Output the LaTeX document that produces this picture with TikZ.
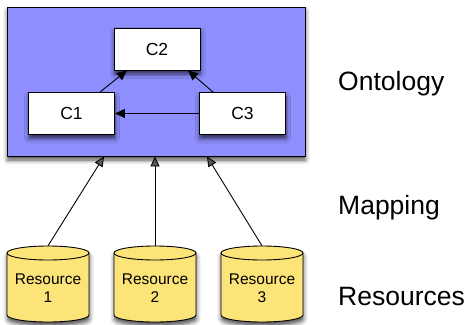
\documentclass[tikz,border=0pt]{standalone}
\usepackage{fontspec}
\setmainfont{Liberation Sans}
\usetikzlibrary{arrows.meta,shadows.blur}
\definecolor{ontoblue}{RGB}{143,143,255}
\definecolor{resyellow}{RGB}{252,228,121}
\tikzset{
  sh/.style={blur shadow={shadow xshift=0.5pt, shadow yshift=-4pt, shadow blur radius=4.5pt, shadow opacity=70}},
  concept/.style={draw=black, line width=0.9pt, fill=white, minimum width=86pt, minimum height=42pt, inner sep=0pt, font=\fontsize{17.5}{20}\selectfont, sh},
  onto/.style={draw=black, line width=0.9pt, fill=ontoblue, minimum width=298pt, minimum height=149pt, inner sep=0pt, sh},
  reslabel/.style={minimum width=82pt, minimum height=84pt, inner sep=0pt, align=center, font=\fontsize{15.5}{17.7}\selectfont},
  arr/.style={line width=0.9pt, -{Triangle[length=10pt,width=9pt]}},
  biglabel/.style={anchor=base west, inner sep=0pt, font=\fontsize{26.5}{30}\selectfont},
  cylbody/.style={draw=black, line width=0.9pt, fill=resyellow}
}
\newcommand{\drawcyl}[1]{%
  \path[cylbody, sh] (#1-41,253) -- (#1-41,315) arc[start angle=180, end angle=360, x radius=41pt, y radius=7pt] -- (#1+41,253) arc[start angle=0, end angle=180, x radius=41pt, y radius=7pt] -- cycle;
  \draw[line width=0.9pt] (#1-41,253) arc[start angle=180, end angle=360, x radius=41pt, y radius=7pt];
}
\begin{document}
\begin{tikzpicture}[x=1pt,y=-1pt]
\useasboundingbox (0,0) rectangle (468,324);
\node[onto] (O) at (156,81.5) {};
\node[concept] (C2) at (157,49) {C2};
\node[concept] (C1) at (71.5,113.5) {C1};
\node[concept] (C3) at (242.5,113.5) {C3};
\draw[arr] ([xshift=28.5pt]C1.north) -- ([xshift=-30pt]C2.south);
\draw[arr] ([xshift=-29.5pt]C3.north) -- ([xshift=31pt]C2.south);
\draw[arr] (C3.west) -- (C1.east);
\drawcyl{48}
\drawcyl{155}
\drawcyl{262}
\node[reslabel] (R1) at (48,288) {Resource\\1};
\node[reslabel] (R2) at (155,288) {Resource\\2};
\node[reslabel] (R3) at (262,288) {Resource\\3};
\draw[arr] (R1.north) -- ([xshift=-52pt]O.south);
\draw[arr] (R2.north) -- ([xshift=-1pt]O.south);
\draw[arr] (R3.north) -- ([xshift=51pt]O.south);
\node[biglabel] (L1) at (338,90.7) {Ontology};
\node[biglabel] (L2) at (338,214) {Mapping};
\node[biglabel] (L3) at (338,305) {Resources};
\end{tikzpicture}
\end{document}
